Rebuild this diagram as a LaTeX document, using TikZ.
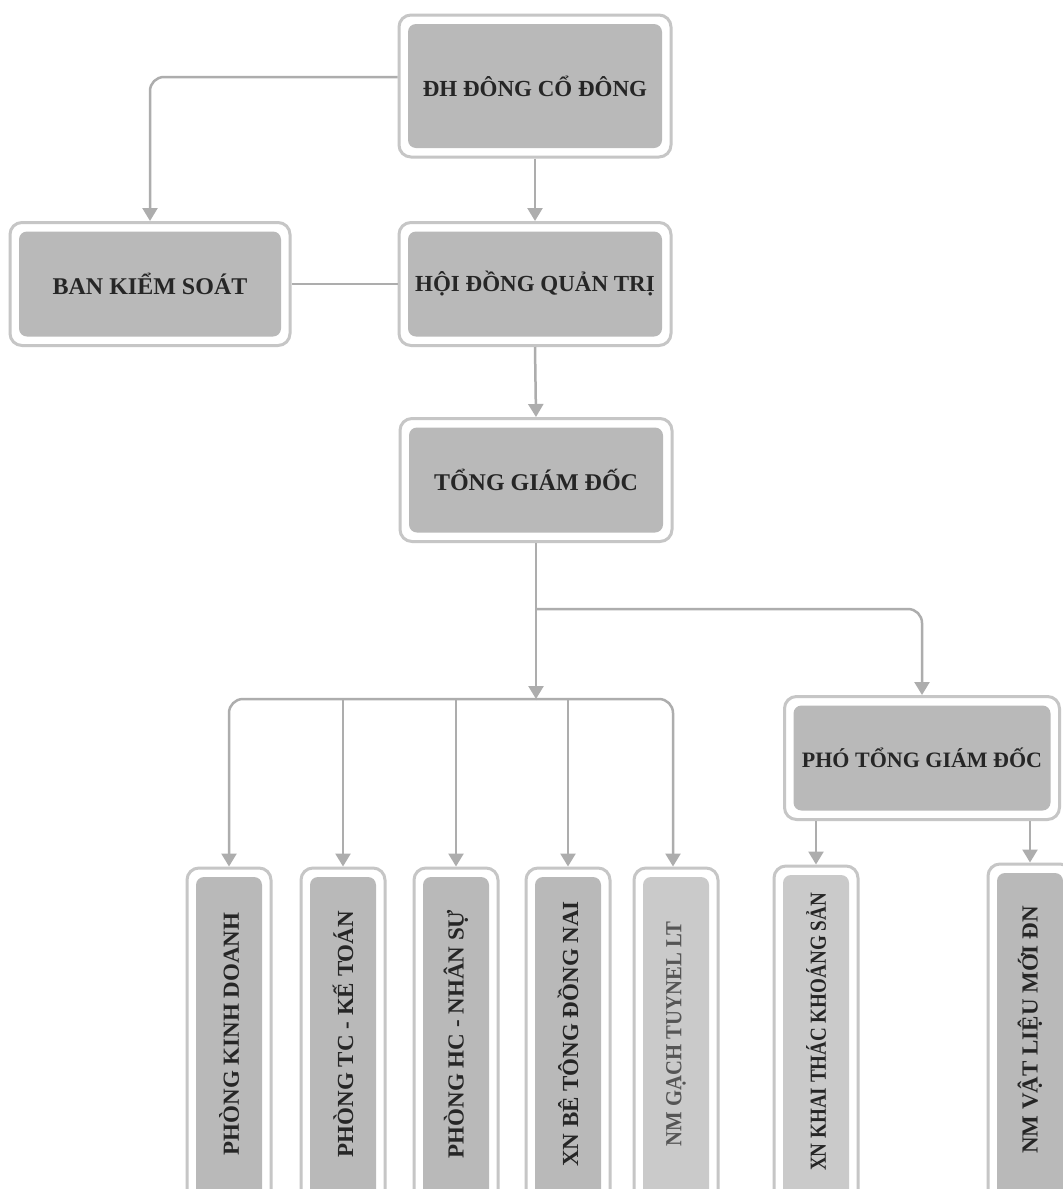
\documentclass[tikz,border=0pt]{standalone}
\usepackage{fontspec}
\setmainfont{Liberation Serif}
\usetikzlibrary{arrows.meta}
\definecolor{framegray}{HTML}{C6C6C6}
\definecolor{innergray}{HTML}{B9B9B9}
\definecolor{innerlight}{HTML}{CACACA}
\definecolor{conngray}{HTML}{ADADAD}
\definecolor{txt}{HTML}{262626}
\definecolor{txtlight}{HTML}{555555}
\def\orginnerfill{innergray}
\newcommand{\myvlab}[1]{\rotatebox{90}{\hspace*{28pt}#1}}
\tikzset{
  innerfill/.store in=\orginnerfill,
  orgbox/.style={draw=framegray, line width=3pt, fill=white, rounded corners=12pt,
    inner sep=0pt, text=txt, font=\bfseries\fontsize{23}{23}\selectfont,
    path picture={\fill[\orginnerfill, rounded corners=8pt]
      ([shift={(9pt,9pt)}]path picture bounding box.south west) rectangle
      ([shift={(-9pt,-9pt)}]path picture bounding box.north east);}},
  hbox/.style={orgbox, minimum width=272pt, minimum height=123pt},
  vbox/.style={orgbox, minimum width=84pt, minimum height=360pt},
  conn/.style={draw=conngray, line width=2.5pt},
  arr/.style={conn, -{Triangle[width=15pt,length=13pt]}},
}
\begin{document}
\begin{tikzpicture}[x=1pt,y=-1pt]
\useasboundingbox (0,0) rectangle (1063,1189);
\fill[white] (0,0) rectangle (1063,1189);
\begin{scope}
\clip (0,0) rectangle (1063,1189);
% top levels
\node[hbox, minimum height=142pt] (dh) at (535,86) {ĐH ĐÔNG CỔ ĐÔNG};
\node[hbox, minimum width=280pt, font=\bfseries\fontsize{24}{24}\selectfont] (bks) at (150,284) {BAN KIỂM SOÁT};
\node[hbox] (hd) at (535,284) {HỘI ĐỒNG QUẢN TRỊ};
\node[hbox, font=\bfseries\fontsize{24}{24}\selectfont] (tgd) at (536,480) {TỔNG GIÁM ĐỐC};
\node[hbox, minimum width=275pt, font=\bfseries\fontsize{22}{22}\selectfont] (pho) at (922,758) {PHÓ TỔNG GIÁM ĐỐC};
% vertical boxes
\node[vbox] (pkd) at (229,1048) {\myvlab{PHÒNG KINH DOANH}};
\node[vbox] (ptc) at (343,1048) {\myvlab{PHÒNG TC - KẾ TOÁN}};
\node[vbox] (phc) at (456,1048) {\myvlab{PHÒNG HC - NHÂN SỰ}};
\node[vbox] (xnbt) at (568,1048) {\myvlab{XN BÊ TÔNG ĐỒNG NAI}};
\node[vbox, innerfill=innerlight, text=txtlight] (nmg) at (676,1048) {\myvlab{\scalebox{0.9}[1]{NM GẠCH TUYNEL LT}}};
\node[vbox, innerfill=innerlight] (xnkt) at (816,1046) {\myvlab{\scalebox{0.83}[1]{XN KHAI THÁC KHOÁNG SẢN}}};
\node[vbox] (nmvl) at (1030,1044) {\myvlab{NM VẬT LIỆU MỚI ĐN}};
% connectors
\path (tgd.south) ++(0,156) coordinate (bus);
\path (tgd.south) ++(0,66) coordinate (br);
\draw[arr, rounded corners=14pt] ([yshift=9pt]dh.west) -| (bks.north);
\draw[arr] (dh.south) -- (hd.north);
\draw[conn] (bks.east) -- (hd.west);
\draw[arr] (hd.south) -- (tgd.north);
\draw[arr] (tgd.south) -- (bus);
\draw[arr, rounded corners=14pt] (br) -| (pho.north);
\draw[arr, rounded corners=14pt] (bus) -| (pkd.north);
\draw[arr, rounded corners=14pt] (bus) -| ([xshift=-3pt]nmg.north);
\draw[arr] (bus -| ptc.north) -- (ptc.north);
\draw[arr] (bus -| phc.north) -- (phc.north);
\draw[arr] (bus -| xnbt.north) -- (xnbt.north);
\draw[arr] (pho.south -| xnkt.north) -- (xnkt.north);
\draw[arr] (pho.south -| nmvl.north) -- (nmvl.north);
\end{scope}
\end{tikzpicture}
\end{document}
